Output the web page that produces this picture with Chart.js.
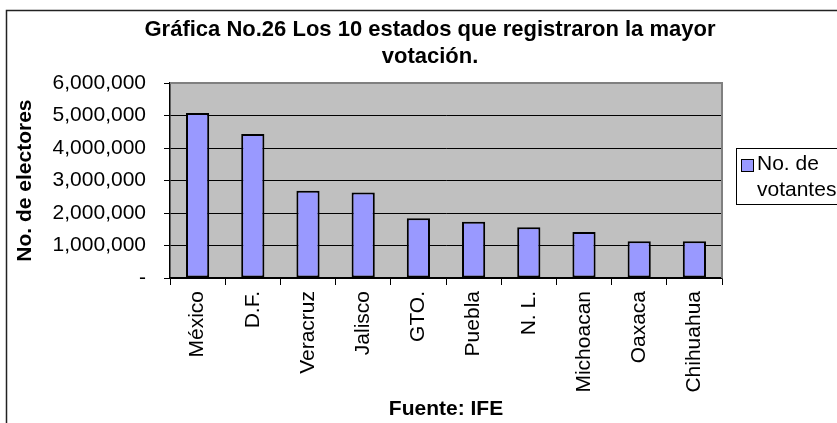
<!DOCTYPE html>
<html>
<head>
<meta charset="utf-8">
<script src="https://cdn.jsdelivr.net/npm/chart.js@4.4.0/dist/chart.umd.min.js"></script>
<style>
  body { margin: 0; background: #fff; overflow: hidden; }
  canvas { display: block; }
</style>
</head>
<body>
<canvas id="myChart" width="837" height="423"></canvas>
<script>
var ctx = document.getElementById('myChart');

// data
let estados = ['México', 'D.F.', 'Veracruz', 'Jalisco', 'GTO.', 'Puebla', 'N. L.', 'Michoacan', 'Oaxaca', 'Chihuahua'];
let votantes = [5080000, 4430000, 2690000, 2630000, 1840000, 1730000, 1560000, 1420000, 1130000, 1130000];
let yTicks = [0, 1000000, 2000000, 3000000, 4000000, 5000000, 6000000];
let titleLines = ['Gráfica No.26 Los 10 estados que registraron la mayor', 'votación.'];
let legendLines = ['No. de', 'votantes'];

const FONT = "'Liberation Sans', Arial, sans-serif";
const barColor = '#9999FF';

// grey plot area, grey top/right border, outer frame and legend box
const decor = {
    id: 'decor',
    beforeDraw(chart) {
        const c = chart.ctx, a = chart.chartArea;
        c.save();
        c.fillStyle = '#C0C0C0';
        c.fillRect(a.left, a.top, a.right - a.left, a.bottom - a.top);
        c.restore();
    },
    beforeDatasetsDraw(chart) {
        const c = chart.ctx, a = chart.chartArea;
        c.save();
        c.strokeStyle = '#808080';
        c.lineWidth = 2;
        c.beginPath();
        c.moveTo(a.left, a.top);
        c.lineTo(a.right, a.top);
        c.lineTo(a.right, a.bottom);
        c.stroke();
        c.restore();
    },
    afterDraw(chart) {
        const c = chart.ctx;
        c.save();
        // outer frame
        c.strokeStyle = '#222';
        c.lineWidth = 1.5;
        c.strokeRect(6.5, 10.5, 900, 500);
        // legend
        c.strokeStyle = '#000';
        c.lineWidth = 1;
        c.fillStyle = '#fff';
        c.fillRect(736.5, 148.5, 150, 56);
        c.strokeRect(736.5, 148.5, 150, 56);
        c.fillStyle = chart.data.datasets[0].backgroundColor;
        c.fillRect(741.5, 159.5, 12, 12);
        c.strokeRect(741.5, 159.5, 12, 12);
        c.fillStyle = '#000';
        c.font = '21px ' + FONT;
        c.textBaseline = 'alphabetic';
        c.fillText(legendLines[0], 757, 170);
        c.fillText(legendLines[1], 757, 196);
        c.restore();
    }
};

var myChart = new Chart(ctx, {
    type: 'bar',
    data: {
        labels: estados,
        datasets: [{
            label: legendLines.join(' '),
            data: votantes,
            backgroundColor: barColor,
            borderColor: '#000',
            borderWidth: 2,
            borderSkipped: false,
            categoryPercentage: 1,
            barPercentage: 0.42
        }]
    },
    options: {
        responsive: false,
        animation: false,
        layout: { padding: { left: 0, right: -23, top: 0, bottom: 0 } },
        plugins: {
            legend: { display: false },
            tooltip: { enabled: false },
            title: {
                display: true,
                text: titleLines,
                color: '#000',
                font: { family: FONT, size: 22, weight: 'bold', lineHeight: 1.23 },
                padding: { top: 16, bottom: 13 }
            }
        },
        scales: {
            x: {
                offset: true,
                afterFit: (s) => { s.height = 145; },
                grid: { offset: true, drawOnChartArea: false, drawTicks: true, tickLength: 7, color: '#000' },
                border: { color: '#000', width: 1.5 },
                ticks: {
                    color: '#000',
                    font: { family: FONT, size: 21 },
                    minRotation: 90,
                    maxRotation: 90,
                    autoSkip: false,
                    padding: 6
                },
                title: {
                    display: true,
                    text: 'Fuente: IFE',
                    color: '#000',
                    font: { family: FONT, size: 21, weight: 'bold', lineHeight: 1.2 },
                    padding: { top: 1, bottom: 1 }
                }
            },
            y: {
                min: 0,
                max: 6000000,
                afterFit: (s) => { s.width = 170; },
                afterBuildTicks: (s) => { s.ticks = yTicks.map(v => ({ value: v })); },
                grid: {
                    color: (c) => c.tick && c.tick.value === 6000000 ? 'rgba(0,0,0,0)' : '#000',
                    tickColor: '#000',
                    tickLength: 6,
                    lineWidth: 1
                },
                border: { color: '#000', width: 1.5 },
                ticks: {
                    color: '#000',
                    font: { family: FONT, size: 21 },
                    padding: 18,
                    callback: (v) => v === 0 ? '-' : v.toLocaleString('en-US')
                },
                title: {
                    display: true,
                    text: 'No. de electores',
                    color: '#000',
                    font: { family: FONT, size: 21, weight: 'bold', lineHeight: 1.2 },
                    padding: { top: 13, bottom: 0 }
                }
            },
            yr: {
                position: 'right',
                display: true,
                afterFit: (s) => { s.width = 138; },
                grid: { display: false },
                border: { display: false },
                ticks: { display: false }
            }
        }
    },
    plugins: [decor]
});
</script>
</body>
</html>
